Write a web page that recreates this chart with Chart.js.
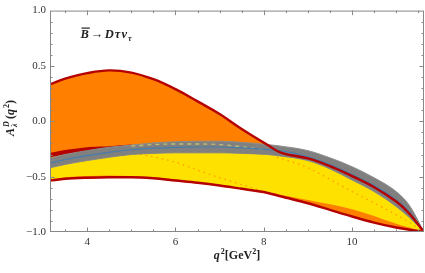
<!DOCTYPE html>
<html lang="en">
<head>
<meta charset="UTF-8">
<title>A_lambda^D(q^2) for B -> D tau nu</title>
<script src="https://cdn.jsdelivr.net/npm/chart.js"></script>
<style>
  html, body { margin: 0; padding: 0; background: #fff; }
  #wrap { width: 425px; height: 273px; position: relative; }
</style>
</head>
<body>
<div id="wrap"><canvas id="chart"></canvas></div>
<script>
// q^2 grid (GeV^2), shared by every band
var q2 = [3.16, 3.5, 4, 4.5, 5, 5.5, 6, 6.5, 7, 7.5, 8.07, 8.4, 9, 9.5, 10, 10.5, 11, 11.3, 11.63];

// orange band (edges drawn in dark red)
var orangeTop = [0.335, 0.385, 0.435, 0.46, 0.44, 0.38, 0.29, 0.18, 0.065, -0.07, -0.21, -0.285, -0.335, -0.405, -0.495, -0.595, -0.725, -0.835, -1];
var orangeLow = [-0.535, -0.52, -0.51, -0.505, -0.505, -0.515, -0.535, -0.555, -0.58, -0.61, -0.645, -0.68, -0.74, -0.80, -0.86, -0.915, -0.96, -0.98, -1];

// yellow band
var yellowTop = [-0.378, -0.345, -0.31, -0.28, -0.257, -0.243, -0.235, -0.232, -0.232, -0.24, -0.255, -0.268, -0.32, -0.39, -0.48, -0.58, -0.71, -0.82, -1];
var yellowLow = [-0.525, -0.505, -0.495, -0.49, -0.495, -0.505, -0.525, -0.55, -0.575, -0.605, -0.64, -0.665, -0.71, -0.75, -0.795, -0.855, -0.925, -0.96, -1];

// gray band and its central (blue) curve
var grayTop = [-0.333, -0.30, -0.265, -0.235, -0.215, -0.195, -0.185, -0.18, -0.18, -0.19, -0.21, -0.225, -0.265, -0.33, -0.41, -0.51, -0.635, -0.76, -1];
var grayLow = [-0.42, -0.39, -0.355, -0.325, -0.30, -0.29, -0.285, -0.285, -0.285, -0.29, -0.30, -0.315, -0.355, -0.43, -0.53, -0.635, -0.77, -0.87, -1];
var grayMid = [-0.378, -0.345, -0.31, -0.28, -0.257, -0.243, -0.235, -0.232, -0.232, -0.24, -0.255, -0.268, -0.32, -0.39, -0.48, -0.58, -0.71, -0.82, -1];

// short red curve left of q2 = 4.5
var redSliverQ = [3.16, 3.5, 4, 4.5, 5];
var redSliver = [-0.305, -0.28, -0.255, -0.245, -0.23];

// dashed light curve inside gray band
var dashQ = [5, 5.5, 6, 6.5, 7, 7.5, 8.07];
var dashY = [-0.225, -0.21, -0.205, -0.205, -0.21, -0.23, -0.26];

// dotted orange curves inside yellow band
var dotAQ = [5.2, 5.5, 6, 6.5, 7, 7.4, 8.0];
var dotAY = [-0.30, -0.32, -0.37, -0.44, -0.51, -0.56, -0.635];
var dotBQ = [8.3, 8.55, 9, 9.5, 10, 10.7, 11.2, 11.63];
var dotBY = [-0.325, -0.355, -0.42, -0.525, -0.635, -0.78, -0.89, -1];

var xTicks = [4, 6, 8, 10];
var yTicks = [-1, -0.5, 0, 0.5, 1];

function pts(xs, ys) {
    return xs.map(function(x, i) { return { x: x, y: ys[i] }; });
}

var RED = 'rgb(180,0,0)';
var ORANGE = 'rgb(255,128,0)';
var YELLOW = 'rgb(255,225,0)';
var GRAY = 'rgb(128,128,128)';
var SERIF = '"Liberation Serif", "DejaVu Serif", serif';

function line(data, color, width, order, extra) {
    var ds = {
        data: data, borderColor: color, borderWidth: width, pointRadius: 0,
        fill: false, cubicInterpolationMode: 'monotone', order: order
    };
    for (var k in extra) ds[k] = extra[k];
    return ds;
}

// the upper orange edge is a smooth bump, so use a bezier spline for it
var smooth = { cubicInterpolationMode: 'default', tension: 0.4 };

var datasets = [
    // bands: top edge fills down to the following dataset
    line(pts(q2, orangeTop), 'rgba(0,0,0,0)', 0, 20, { fill: '+1', backgroundColor: ORANGE, cubicInterpolationMode: 'default', tension: 0.4 }),
    line(pts(q2, orangeLow), 'rgba(0,0,0,0)', 0, 21),
    line(pts(q2, yellowTop), 'rgba(0,0,0,0)', 0, 16, { fill: '+1', backgroundColor: YELLOW }),
    line(pts(q2, yellowLow), 'rgba(0,0,0,0)', 0, 17),
    line(pts(dotAQ, dotAY), 'rgb(255,150,0)', 1.2, 14, { borderDash: [1.5, 4] }),
    line(pts(dotBQ, dotBY), 'rgb(255,150,0)', 1.2, 14, { borderDash: [1.5, 4] }),
    line(pts(redSliverQ, redSliver), RED, 4.5, 13),
    line(pts(q2, grayTop), 'rgb(140,140,140)', 1, 10, { fill: '+1', backgroundColor: GRAY }),
    line(pts(q2, grayLow), 'rgb(140,140,140)', 1, 11),
    // curves drawn on top
    line(pts(dashQ, dashY), 'rgb(190,190,110)', 1.3, 5, { borderDash: [4, 4] }),
    line(pts(q2, grayMid), 'rgb(70,125,170)', 1.2, 4),
    line(pts(q2, orangeTop), RED, 2.4, 2, smooth),
    line(pts(q2, orangeLow), RED, 2.5, 2)
];

// inward frame ticks on all four sides
var framePlugin = {
    id: 'frame',
    afterDatasetsDraw: function(chart) {
        var ctx = chart.ctx, a = chart.chartArea;
        var xs = chart.scales.x, ys = chart.scales.y;
        ctx.save();
        ctx.strokeStyle = 'rgb(135,135,135)';
        ctx.lineWidth = 1;
        ctx.strokeRect(a.left + 0.5, a.top + 0.5, a.right - a.left - 1, a.bottom - a.top - 1);
        ctx.beginPath();
        for (var v = 3.5; v <= 11.5 + 1e-9; v += 0.5) {
            var px = Math.round(xs.getPixelForValue(v)) + 0.5;
            var len = (Math.abs(v % 2) < 1e-9) ? 4.5 : 2.5;
            ctx.moveTo(px, a.bottom); ctx.lineTo(px, a.bottom - len);
            ctx.moveTo(px, a.top); ctx.lineTo(px, a.top + len);
        }
        for (var i = -9; i <= 9; i++) {
            var py = Math.round(ys.getPixelForValue(i / 10)) + 0.5;
            var l2 = (i % 5 === 0) ? 4.5 : 2.5;
            ctx.moveTo(a.left, py); ctx.lineTo(a.left + l2, py);
            ctx.moveTo(a.right, py); ctx.lineTo(a.right - l2, py);
        }
        ctx.stroke();
        ctx.restore();
    }
};

function drawRich(ctx, parts, x, y) {
    var w = 0;
    parts.forEach(function(p) {
        ctx.font = p.f;
        p.w = ctx.measureText(p.t).width;
        if (!p.noAdv) w += p.w + (p.gap || 0);
    });
    var cx = x - w / 2;
    parts.forEach(function(p) {
        ctx.font = p.f;
        ctx.fillText(p.t, cx, y + (p.dy || 0));
        if (p.over) {
            ctx.fillRect(cx + 1, y - 10.5, p.w, 1.2);
        }
        if (!p.noAdv) cx += p.w + (p.gap || 0);
    });
}

var textPlugin = {
    id: 'texts',
    afterDraw: function(chart) {
        var ctx = chart.ctx;
        ctx.save();
        ctx.fillStyle = '#222';
        ctx.textBaseline = 'alphabetic';
        ctx.textAlign = 'left';
        var big = 'bold 12px ' + SERIF, bigI = 'bold italic 12px ' + SERIF;
        var sm = 'bold 8px ' + SERIF, smI = 'bold italic 8px ' + SERIF;

        // x axis title
        drawRich(ctx, [
            { t: 'q', f: bigI, gap: 1 },
            { t: '2', f: sm, dy: -5 },
            { t: '[GeV', f: big },
            { t: '2', f: sm, dy: -5 },
            { t: ']', f: big }
        ], 237, 259);

        // y axis title
        ctx.save();
        ctx.translate(14, 118);
        ctx.rotate(-Math.PI / 2);
        drawRich(ctx, [
            { t: 'A', f: bigI, gap: 1 },
            { t: '\u03bb', f: smI, dy: 3, noAdv: true },
            { t: 'D', f: smI, dy: -5, gap: 2 },
            { t: '(', f: big },
            { t: 'q', f: bigI, gap: 1 },
            { t: '2', f: sm, dy: -5 },
            { t: ')', f: big }
        ], 0, 0);
        ctx.restore();

        // process label
        var lab = 'bold italic 12.5px ' + SERIF;
        drawRich(ctx, [
            { t: 'B', f: lab, over: true, gap: 2 },
            { t: '\u2192', f: 'bold 12.5px ' + SERIF, gap: 1.5 },
            { t: 'D', f: lab, gap: 1 },
            { t: '\u03c4', f: lab, gap: 1 },
            { t: '\u03bd', f: lab, gap: 1 },
            { t: '\u03c4', f: smI, dy: 3 }
        ], 106, 38);
        ctx.restore();
    }
};

var ctx = document.getElementById('chart').getContext('2d');
new Chart(ctx, {
    type: 'line',
    data: { datasets: datasets },
    options: {
        responsive: true,
        maintainAspectRatio: false,
        animation: false,
        layout: { padding: { top: 6, right: 1, left: 0, bottom: 0 } },
        plugins: { legend: { display: false }, tooltip: { enabled: false } },
        scales: {
            x: {
                type: 'linear', min: 3.157, max: 11.63,
                grid: { display: false, drawTicks: false },
                border: { display: false },
                afterBuildTicks: function(s) { s.ticks = xTicks.map(function(v) { return { value: v }; }); },
                afterFit: function(s) { s.height = 41; },
                ticks: {
                    padding: 4, maxRotation: 0, color: '#333',
                    font: { family: SERIF, size: 11 },
                    callback: function(v) { return String(v); }
                }
            },
            y: {
                type: 'linear', min: -1, max: 1,
                grid: { display: false, drawTicks: false },
                border: { display: false },
                afterBuildTicks: function(s) { s.ticks = yTicks.map(function(v) { return { value: v }; }); },
                afterFit: function(s) { s.width = 50; },
                ticks: {
                    padding: 4, color: '#333',
                    font: { family: SERIF, size: 11 },
                    callback: function(v) { return Number(v).toFixed(1).replace('-', '\u2212'); }
                }
            }
        }
    },
    plugins: [framePlugin, textPlugin]
});
</script>
</body>
</html>
